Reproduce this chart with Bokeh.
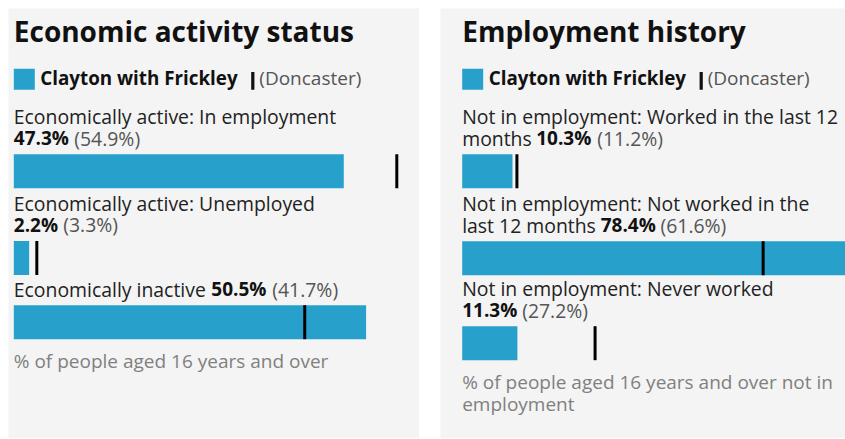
from bokeh.plotting import figure
from bokeh.models import Range1d, Spacer
from bokeh.layouts import row, column
from bokeh.embed import file_html
from bokeh.resources import INLINE
from bokeh.core.properties import value

# ---------------- data ----------------
area_name = "Clayton with Frickley"
comparison_name = "Doncaster"

econ_title = "Economic activity status"
econ_categories = [
    "Economically active: In employment",
    "Economically active: Unemployed",
    "Economically inactive",
]
econ_area = [47.3, 2.2, 50.5]
econ_comparison = [54.9, 3.3, 41.7]
econ_note = "% of people aged 16 years and over"

hist_title = "Employment history"
hist_categories = [
    "Not in employment: Worked in the last 12 months",
    "Not in employment: Not worked in the last 12 months",
    "Not in employment: Never worked",
]
hist_area = [10.3, 78.4, 11.3]
hist_comparison = [11.2, 61.6, 27.2]
hist_note = "% of people aged 16 years and over not in employment"

# ---------------- style ----------------
BG = "#f4f4f4"
BAR = "#27a0cc"
INK = "#222222"
MUTED = "#555555"
NOTE = "#808080"
FONT = value("Open Sans")
H = 430
SCALE_PX = 383.0
BODY = 19.4
SMALL = 19.0
BOLDV = 19.0


def txt(p, s, x_off, y, size, style="normal", color=INK):
    p.text(x=[0], y=[y], text=[s], x_offset=x_off, y_offset=-0.42 * size,
           text_font=FONT, text_font_size=f"{size}px", text_font_style=style,
           text_color=color, text_baseline="alphabetic", text_align="left")


def panel(width, pad, title, cats, area, comp, note, layout):
    k = SCALE_PX / max(area + comp)
    p = figure(width=width, height=H, output_backend="svg", toolbar_location=None,
               x_range=Range1d(-pad / k, (width - pad) / k), y_range=Range1d(H, 0),
               min_border=0, x_axis_location=None, y_axis_location=None,
               background_fill_color=BG, border_fill_color=BG, outline_line_color=None)
    p.grid.visible = False

    txt(p, title, 0, 34.7, 28, "bold", "#111111")
    # legend
    p.quad(left=[0], right=[21 / k], top=[60.3], bottom=[81.3], color=BAR, line_color=None)
    txt(p, area_name, 26.5, 77.5, 18.8, "bold", "#111111")
    p.quad(left=[237.4 / k], right=[240.6 / k], top=[63.5], bottom=[81.3],
           color="#111111", line_color=None)
    txt(p, "(" + comparison_name + ")", 245.5, 77.5, SMALL, "normal", MUTED)

    for i, c in enumerate(cats):
        spec = layout[i]
        words = c.split(" ")
        lines = []
        if spec["wrap"] is not None:
            lines.append(" ".join(words[:spec["wrap"]]))
            last = " ".join(words[spec["wrap"]:])
        else:
            last = c
        if spec["newline"]:
            lines.append(last)
            last = ""
        y = spec["y"]
        for ln in lines:
            txt(p, ln, 0, y, BODY)
            y += 21.7
        if last:
            txt(p, last, 0, y, BODY)
        txt(p, f"{area[i]}%", spec["bold"], y, BOLDV, "bold", "#111111")
        txt(p, f"({comp[i]}%)", spec["comp"], y, BODY, "normal", MUTED)
        top = y + 8
        p.quad(left=[0], right=[area[i]], top=[top], bottom=[top + 34], color=BAR, line_color=None)
        p.segment(x0=[comp[i]], x1=[comp[i]], y0=[top], y1=[top + 34],
                  line_color="#000000", line_width=3)
        last_bottom = top + 34

    y = last_bottom + 30
    nwords = note.split(" ")
    n = layout[-1].get("note_wrap")
    if n:
        txt(p, " ".join(nwords[:n]), 0, y, SMALL, "normal", NOTE)
        txt(p, " ".join(nwords[n:]), 0, y + 21.7, SMALL, "normal", NOTE)
    else:
        txt(p, note, 0, y, SMALL, "normal", NOTE)
    return p


econ_layout = [
    {"y": 116, "wrap": None, "newline": True, "bold": 0, "comp": 60.5},
    {"y": 202.7, "wrap": None, "newline": True, "bold": 0, "comp": 49.5},
    {"y": 288.7, "wrap": None, "newline": False, "bold": 197.5, "comp": 258.5},
]
hist_layout = [
    {"y": 116, "wrap": 8, "newline": False, "bold": 74, "comp": 135},
    {"y": 203, "wrap": 7, "newline": False, "bold": 138.5, "comp": 198.3},
    {"y": 288, "wrap": None, "newline": True, "bold": 0, "comp": 60, "note_wrap": 10},
]

p1 = panel(411, 5.3, econ_title, econ_categories, econ_area, econ_comparison, econ_note, econ_layout)
p2 = panel(405, 21.7, hist_title, hist_categories, hist_area, hist_comparison, hist_note, hist_layout)

page = column(Spacer(width=845, height=8),
              row(Spacer(width=8, height=H), p1, Spacer(width=21, height=H), p2))
open("out.html", "w").write(file_html(page, INLINE))
